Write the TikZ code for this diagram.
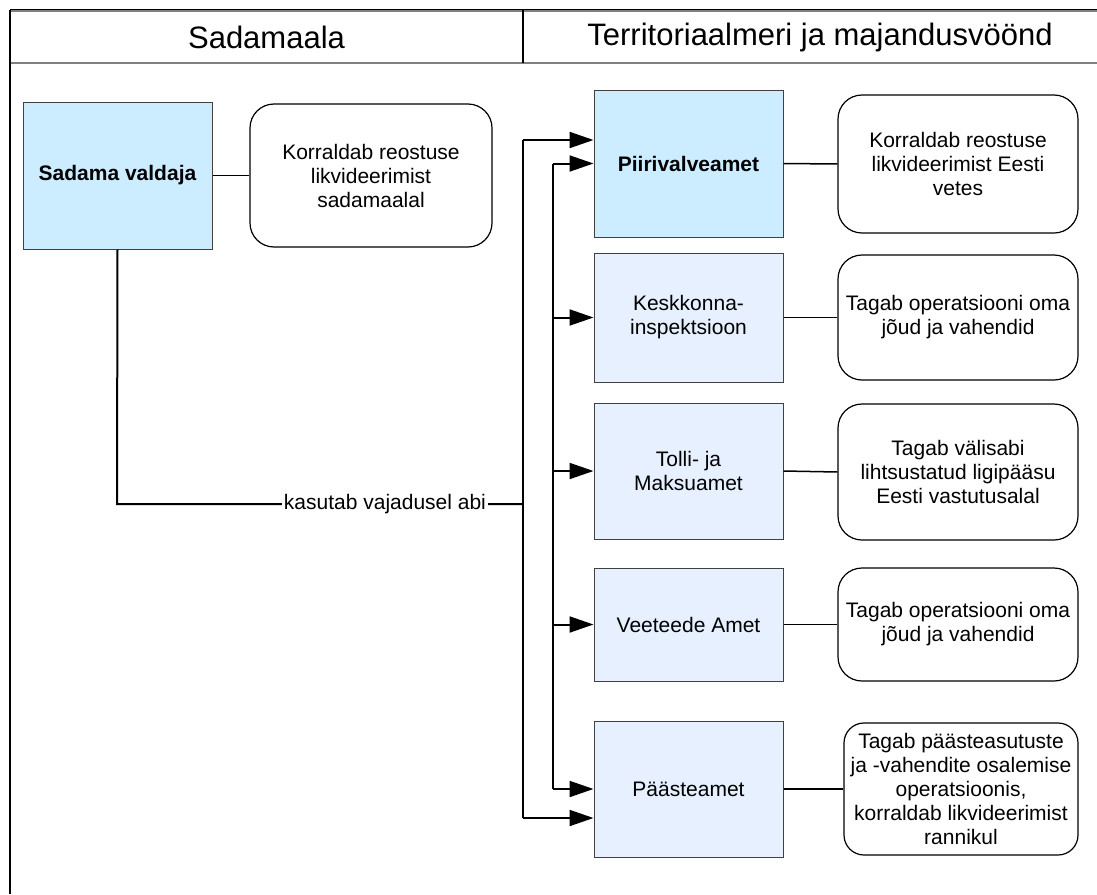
\documentclass[tikz,border=0pt]{standalone}
\usepackage{fontspec}
\setmainfont{Liberation Sans}
\usetikzlibrary{arrows.meta}
\definecolor{boxblue}{HTML}{CCECFF}
\definecolor{boxlight}{HTML}{E6F0FF}
\definecolor{boxedge}{HTML}{404040}
\definecolor{headgray}{HTML}{808080}
\begin{document}
\begin{tikzpicture}[x=1pt,y=-1pt,
  txt/.style={font=\fontsize{21}{24}\selectfont},
  orgbox/.style={draw=boxedge, line width=1pt, inner sep=2pt, align=center, txt},
  keybox/.style={orgbox, fill=boxblue, font=\fontsize{21}{24}\selectfont\bfseries},
  subbox/.style={orgbox, fill=boxlight},
  notebox/.style={draw=black, line width=1.2pt, rounded corners=24pt, fill=white, align=center, inner sep=2pt, txt},
  link/.style={draw=black, line width=1.5pt},
  feed/.style={draw=black, line width=2pt, -{Triangle[length=24pt,width=16pt]}},
  trunk/.style={draw=black, line width=2pt},
  headtxt/.style={font=\fontsize{31}{36}\selectfont},
  frameline/.style={draw=black, line width=2.5pt},
  headline/.style={draw=headgray, line width=2pt}
]
\useasboundingbox (0,0) rectangle (1097,894);

% frame and header
\coordinate (tl) at (10,10);
\coordinate (tr) at (1097,10);
\coordinate (hl) at (10,63);
\coordinate (hr) at (1097,63);
\coordinate (bl) at (10,894);
\coordinate (dtop) at (523,10);
\coordinate (dbot) at (523,63);
\draw[draw=headgray, line width=3pt] (tl) -- (tr);
\draw[draw=black, line width=1pt] ([yshift=1pt]tl) -- ([yshift=1pt]tr);
\draw[headline] (hl) -- (hr);
\draw[frameline] (tl) -- (bl);
\draw[draw=black, line width=1.2pt] (dtop) -- (dbot);
\node[headtxt] (h1) at (266.5,37) {Sadamaala};
\node[headtxt] (h2) at (820,37) {Territoriaalmeri ja majandusvöönd};

% left side
\node[keybox, minimum width=189pt, minimum height=147pt] (sv) at (117.5,175.5) {Sadama valdaja};
\node[notebox, minimum width=242pt, minimum height=143pt] (r1) at (371,175.5) {Korraldab reostuse\\likvideerimist\\sadamaalal};

% right side organisations
\node[keybox, minimum width=189pt, minimum height=147pt] (piir) at (688.5,163.5) {Piirivalveamet};
\node[subbox, minimum width=189pt, minimum height=129pt] (kesk) at (688.5,317.5) {Keskkonna-\\inspektsioon};
\node[subbox, minimum width=189pt, minimum height=136pt] (tolli) at (688.5,471) {Tolli- ja\\Maksuamet};
\node[subbox, minimum width=189pt, minimum height=113pt] (vee) at (688.5,624.5) {Veeteede Amet};
\node[subbox, minimum width=189pt, minimum height=136pt] (paa) at (688.5,789) {Päästeamet};

% notes
\node[notebox, minimum width=240pt, minimum height=138pt] (r2) at (958,164) {Korraldab reostuse\\likvideerimist Eesti\\vetes};
\node[notebox, minimum width=240pt, minimum height=125pt] (r3) at (958,317.5) {Tagab operatsiooni oma\\jõud ja vahendid};
\node[notebox, minimum width=240pt, minimum height=136pt] (r4) at (958,472) {Tagab välisabi\\lihtsustatud ligipääsu\\Eesti vastutusalal};
\node[notebox, minimum width=240pt, minimum height=113pt] (r5) at (958,624.5) {Tagab operatsiooni oma\\jõud ja vahendid};
\node[notebox, minimum width=234pt, minimum height=132pt, rounded corners=20pt] (r6) at (961,789) {Tagab päästeasutuste\\ja -vahendite osalemise\\operatsioonis,\\korraldab likvideerimist\\rannikul};

% box-to-note links
\draw[link] (sv.east) -- (r1.west);
\draw[link] (piir.east) -- (r2.west);
\draw[link] (kesk.east) -- (r3.west);
\draw[link] (tolli.east) -- (r4.west);
\draw[link] (vee.east) -- (r5.west);
\draw[link] (paa.east) -- (r6.west);

% help connector
\coordinate (bend) at (117,504);
\coordinate (junc) at (523,504);
\draw[trunk] (sv.south) -- (bend) -- node[pos=0.66, fill=white, inner sep=2pt, txt] (lab) {kasutab vajadusel abi} (junc);

% outer trunk
\coordinate (otop) at (523,140);
\coordinate (obot) at (523,818);
\draw[trunk] (otop) -- (obot);
\draw[feed] (otop) -- (otop -| piir.west);
\draw[feed] (obot) -- (obot -| paa.west);

% inner trunk
\coordinate (itop) at (553,163.5);
\coordinate (ibot) at (553,789);
\draw[trunk] (itop) -- (ibot);
\draw[feed] (itop) -- (piir.west);
\draw[feed] (kesk.west -| itop) -- (kesk.west);
\draw[feed] (tolli.west -| itop) -- (tolli.west);
\draw[feed] (vee.west -| itop) -- (vee.west);
\draw[feed] (ibot) -- (paa.west);
\end{tikzpicture}
\end{document}
